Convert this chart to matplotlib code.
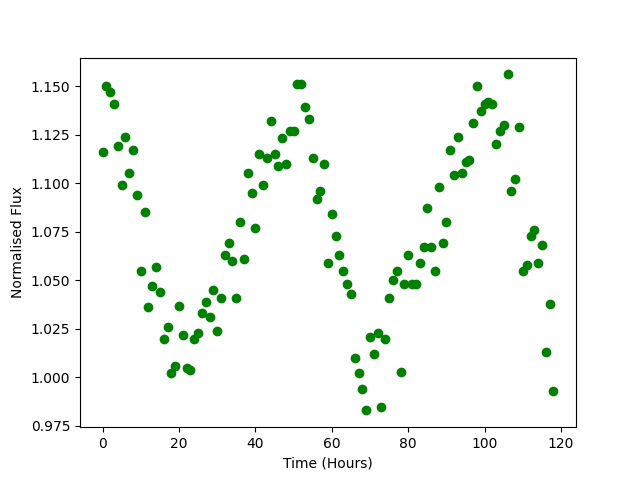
import matplotlib
matplotlib.use("Agg")
import matplotlib.pyplot as plt
import numpy as np

# flux readings, one per hour
flux = [
    1.116, 1.150, 1.147, 1.141, 1.119, 1.099, 1.124, 1.105, 1.117, 1.094,
    1.055, 1.085, 1.036, 1.047, 1.057, 1.044, 1.020, 1.026, 1.002, 1.006,
    1.037, 1.022, 1.005, 1.004, 1.020, 1.023, 1.033, 1.039, 1.031, 1.045,
    1.024, 1.041, 1.063, 1.069, 1.060, 1.041, 1.080, 1.061, 1.105, 1.095,
    1.077, 1.115, 1.099, 1.113, 1.132, 1.115, 1.109, 1.123, 1.110, 1.127,
    1.127, 1.151, 1.151, 1.139, 1.133, 1.113, 1.092, 1.096, 1.110, 1.059,
    1.084, 1.073, 1.063, 1.055, 1.048, 1.043, 1.010, 1.002, 0.994, 0.983,
    1.021, 1.012, 1.023, 0.985, 1.020, 1.041, 1.050, 1.055, 1.003, 1.048,
    1.063, 1.048, 1.048, 1.059, 1.067, 1.087, 1.067, 1.055, 1.098, 1.069,
    1.080, 1.117, 1.104, 1.124, 1.105, 1.111, 1.112, 1.131, 1.150, 1.137,
    1.141, 1.142, 1.141, 1.120, 1.127, 1.130, 1.156, 1.096, 1.102, 1.129,
    1.055, 1.058, 1.073, 1.076, 1.059, 1.068, 1.013, 1.038, 0.993,
]
time = np.arange(len(flux))

plt.figure(figsize=(6.4, 4.8), dpi=100)
plt.plot(time, flux, 'o', color='green')
plt.xlabel("Time (Hours)")
plt.ylabel("Normalised Flux")
plt.savefig("out.png")
